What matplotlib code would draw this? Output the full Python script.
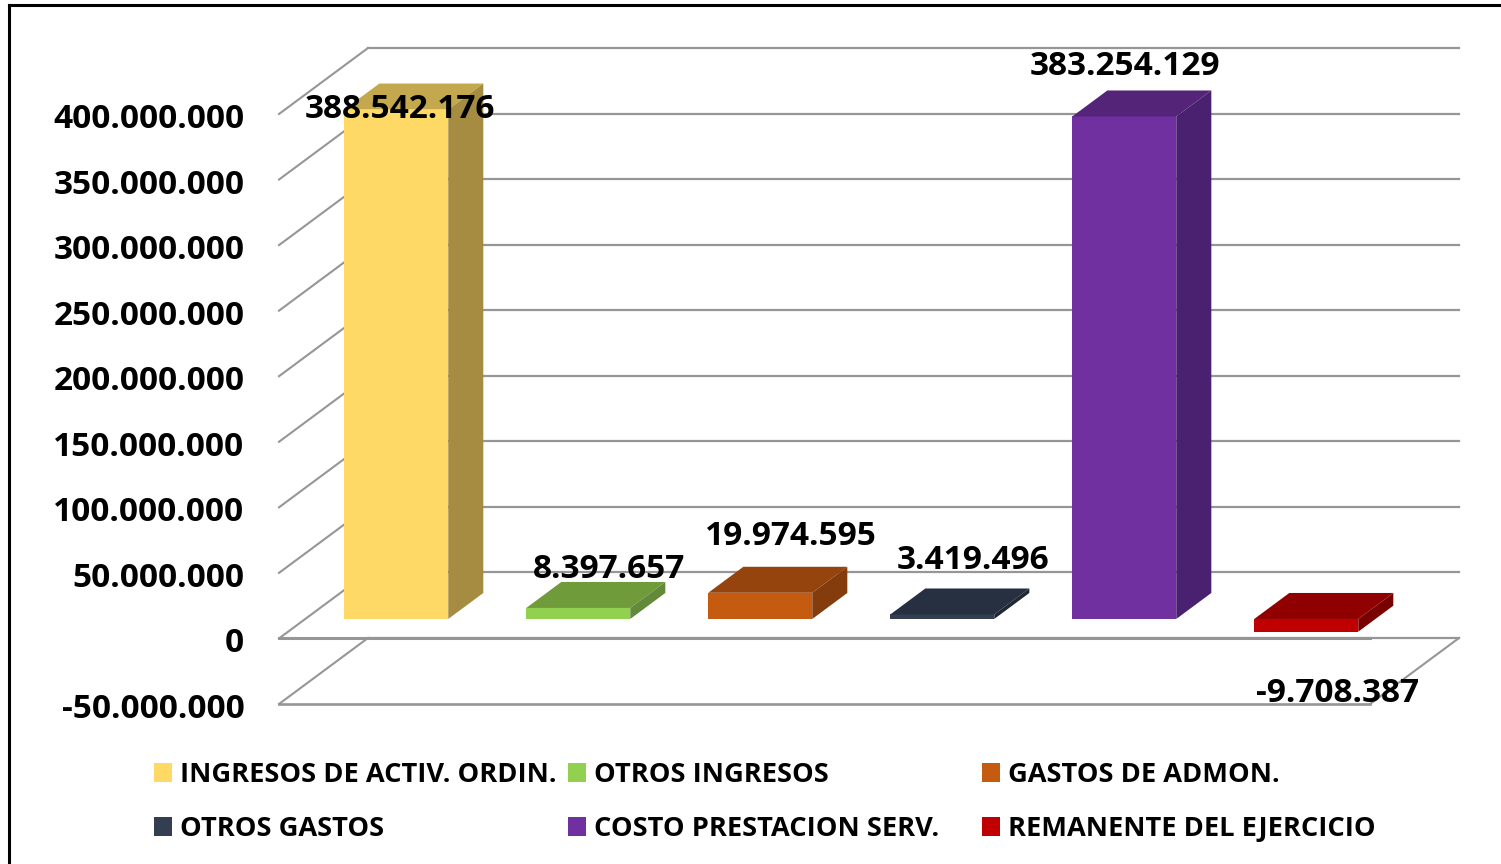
import matplotlib
matplotlib.use("Agg")
import matplotlib.pyplot as plt
from matplotlib.patches import Patch
from matplotlib.lines import Line2D
from matplotlib.transforms import ScaledTranslation

categories = ["INGRESOS DE ACTIV. ORDIN.", "OTROS INGRESOS", "GASTOS DE ADMON.",
              "OTROS GASTOS", "COSTO PRESTACION SERV.", "REMANENTE DEL EJERCICIO"]
values = [388542176, 8397657, 19974595, 3419496, 383254129, -9708387]
y_ticks = [-50000000, 0, 50000000, 100000000, 150000000, 200000000, 250000000,
           300000000, 350000000, 400000000]

front_colors = ["#FFD966", "#92D050", "#C55A11", "#333F50", "#7030A0", "#C00000"]
top_colors = ["#C4A84D", "#6F9B3B", "#96440D", "#263040", "#532477", "#900000"]
side_colors = ["#A58C40", "#63893A", "#843C0C", "#1F2733", "#4A2070", "#7A0000"]
label_offsets_px = [(4, 0), (31, 38), (31, 56), (31, 54), (1, 50), (31, -62)]

W, H = 1501, 864
FONT = "Open Sans"
GRID = "#969696"
plt.rcParams["font.family"] = [FONT, "DejaVu Sans"]
plt.rcParams["font.weight"] = "bold"

fig = plt.figure(figsize=(W / 100, H / 100), dpi=100, facecolor="white")
L, R, T, B = 279, 1370, 114, 704
ax = fig.add_axes([L / W, 1 - B / H, (R - L) / W, (B - T) / H])
STEP = 182.0
ZERO_PX = 370.0
ax.set_xlim((L - ZERO_PX) / STEP, (R - ZERO_PX) / STEP)
ax.set_ylim(y_ticks[0], y_ticks[-1])
ax.patch.set_alpha(0)
for s in ax.spines.values():
    s.set_visible(False)

# oblique depth: a full wall depth is 88 px across and 66 px up
px_per_val = (B - T) / (y_ticks[-1] - y_ticks[0])
DX = 89 / STEP
DY = 66 / px_per_val
BAR_W = 104 / STEP
D0, D1 = 0.295, 0.689
x0, x1 = ax.get_xlim()

# walls and gridlines
for v in y_ticks:
    ax.plot([x0, x0 + DX], [v, v + DY], color=GRID, lw=1.5, clip_on=False, zorder=1)
    ax.plot([x0 + DX, x1 + DX], [v + DY, v + DY], color=GRID, lw=1.6, clip_on=False, zorder=1)
ax.plot([x0, x1], [y_ticks[0]] * 2, color=GRID, lw=1.9, clip_on=False, zorder=1)
ax.plot([x1, x1 + DX], [y_ticks[0], y_ticks[0] + DY], color=GRID, lw=1.5, clip_on=False, zorder=1)
ax.plot([x0, x1], [0, 0], color=GRID, lw=2.2, clip_on=False, zorder=1)

# bars
xs = list(range(len(values)))
ax.bar([x + D0 * DX for x in xs], values, width=BAR_W, bottom=D0 * DY,
       color=front_colors, zorder=3, clip_on=False, linewidth=0)
for x, v, tc, sc in zip(xs, values, top_colors, side_colors):
    xl = x + D0 * DX - BAR_W / 2
    xr = xl + BAR_W
    hi = max(v, 0)
    lo = min(v, 0)
    ddx = (D1 - D0) * DX
    ddy = (D1 - D0) * DY
    y0 = D0 * DY
    ax.fill([xl, xr, xr + ddx, xl + ddx], [y0 + hi, y0 + hi, y0 + hi + ddy, y0 + hi + ddy],
            color=tc, lw=0, zorder=3, clip_on=False)
    ax.fill([xr, xr + ddx, xr + ddx, xr], [y0 + lo, y0 + lo + ddy, y0 + hi + ddy, y0 + hi],
            color=sc, lw=0, zorder=3, clip_on=False)


def fmt(v):
    return f"{v:,}".replace(",", ".")


# data labels
for x, v, (ox, oy) in zip(xs, values, label_offsets_px):
    ax.annotate(fmt(v), xy=(x + D0 * DX, v + D0 * DY), xytext=(ox, oy), textcoords="offset pixels",
                ha="center", va="center", fontsize=24.0, fontweight="bold", color="black",
                zorder=5, annotation_clip=False)

# axis
ax.set_xticks([])
ax.set_yticks(y_ticks)
ax.set_yticklabels([fmt(v) for v in y_ticks], fontsize=24.0, fontweight="bold", color="black")
ax.tick_params(axis="y", length=0, pad=25)
for lbl in ax.get_yticklabels():
    lbl.set_transform(lbl.get_transform() + ScaledTranslation(0, -0.015, fig.dpi_scale_trans))

# legends: three columns, two rows
col_x = [154, 568, 982]
for c in range(3):
    idx = [c, c + 3]
    handles = [Patch(facecolor=front_colors[i], edgecolor="none") for i in idx]
    fig.legend(handles, [categories[i] for i in idx], loc="upper left",
               bbox_to_anchor=(col_x[c] / W, 1 - 762 / H), bbox_transform=fig.transFigure,
               frameon=False, borderpad=0, borderaxespad=0, handlelength=0.66,
               handleheight=0.66, handletextpad=0.29, labelspacing=1.03,
               prop={"family": FONT, "weight": "bold", "size": 19.6})

# chart frame
for xd, yd in [((9, 9), (H, 5)), ((9, W), (5, 5))]:
    fig.add_artist(Line2D([xd[0] / W, xd[1] / W], [1 - yd[0] / H, 1 - yd[1] / H],
                          color="black", lw=2.2, transform=fig.transFigure))

fig.savefig("out.png", dpi=100)
